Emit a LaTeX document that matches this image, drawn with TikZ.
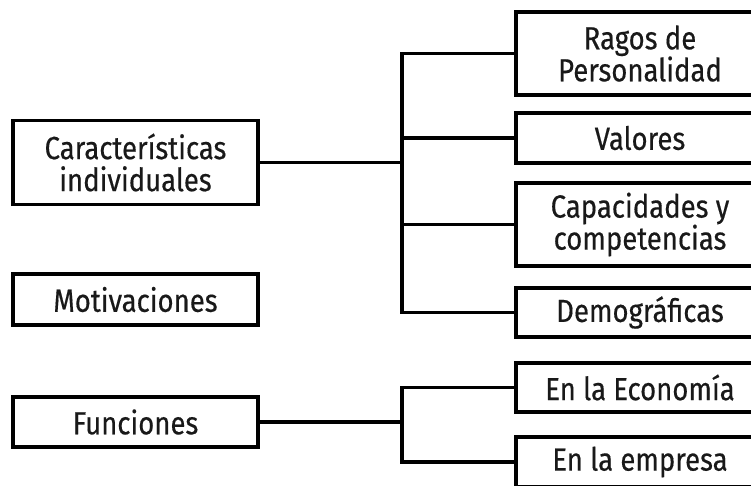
\documentclass[tikz,border=0pt]{standalone}
\usepackage{fontspec}
\setmainfont{Fira Sans}[FakeStretch=0.86, FakeBold=0.4]
\usetikzlibrary{positioning}

\begin{document}
\begin{tikzpicture}[x=1pt, y=-1pt,
    box/.style={draw, line width=3.2pt, rectangle, align=center, inner sep=0pt, text=black!90, font=\fontsize{32}{32}\selectfont},
    leftbox/.style={box, minimum width=245pt},
    rightbox/.style={box, minimum width=248pt},
    link/.style={line width=3.2pt}]
    \useasboundingbox (0,0) rectangle (751,485);
    % left column
    \node (car) [leftbox, minimum height=84pt] at (135.5, 162.5) {Características\\individuales};
    \node (mot) [leftbox, minimum height=51pt] at (135.5, 299.5) {Motivaciones};
    \node (fun) [leftbox, minimum height=50pt] at (135.5, 422) {Funciones};
    % right column
    \node (rag) [rightbox, minimum height=83pt] at (640, 53.5) {Ragos de\\Personalidad};
    \node (val) [rightbox, minimum height=50pt] at (640, 138) {Valores};
    \node (cap) [rightbox, minimum height=83pt] at (640, 224.5) {Capacidades y\\competencias};
    \node (dem) [rightbox, minimum height=49pt] at (640, 312.5) {Demográficas};
    \node (eco) [rightbox, minimum height=49pt] at (640, 387.5) {En la Economía};
    \node (emp) [rightbox, minimum height=50pt] at (640, 462) {En la empresa};
    % junctions
    \coordinate (j1) at (402, 162.5);
    \coordinate (j2) at (402, 422);
    \draw [link] (car.east) -- (j1);
    \draw [link] (rag.west) -| (j1);
    \draw [link] (val.west) -| (j1);
    \draw [link] (cap.west) -| (j1);
    \draw [link] (dem.west) -| (j1);
    \draw [link] (fun.east) -- (j2);
    \draw [link] (eco.west) -| (j2);
    \draw [link] (emp.west) -| (j2);
\end{tikzpicture}
\end{document}
